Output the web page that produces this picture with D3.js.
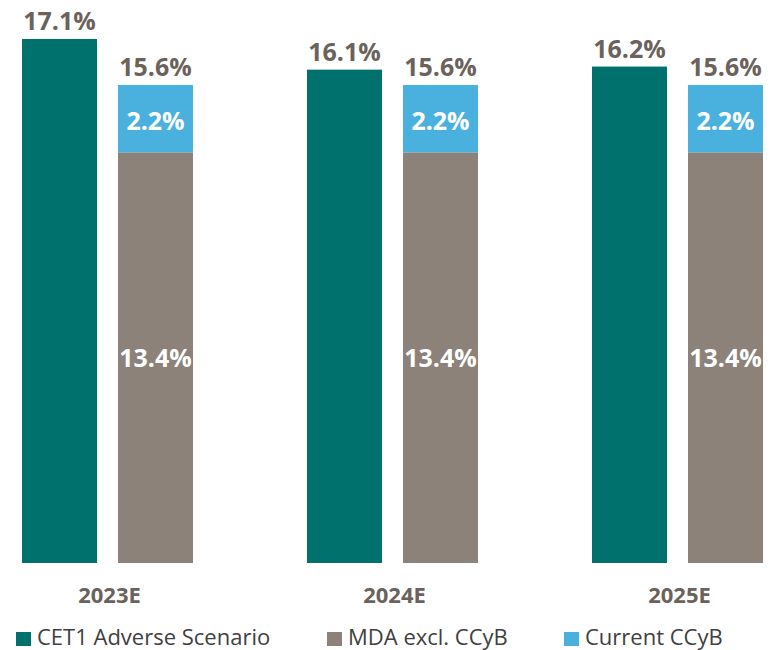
<!DOCTYPE html>
<html>
<head>
<meta charset="utf-8">
<script src="https://cdn.jsdelivr.net/npm/d3@7"></script>
<style>
  body { margin: 0; background: #fff; }
  text { font-family: "Open Sans", sans-serif; }
</style>
</head>
<body>
<div id="chart"></div>
<script>
const years     = ["2023E", "2024E", "2025E"];
const cet1      = [17.1, 16.1, 16.2];
const mdaExcl   = [13.4, 13.4, 13.4];
const ccyb      = [2.2, 2.2, 2.2];
const legendLabels = ["CET1 Adverse Scenario", "MDA excl. CCyB", "Current CCyB"];

const colors = { cet1: "#00716c", mda: "#8c8279", ccyb: "#4ab1df" };
const labelColor = "#6b625b";

const width = 773, height = 650;

const svg = d3.select("#chart")
  .append("svg")
    .attr("width", width)
    .attr("height", height);

const data = years.map((y, i) => ({
  year: y, cet1: cet1[i], mda: mdaExcl[i], ccyb: ccyb[i]
}));

const x = d3.scaleBand()
  .domain(years)
  .range([22, 763])
  .paddingInner(0.4)
  .paddingOuter(0);

const xSub = d3.scaleBand()
  .domain(["cet1", "stack"])
  .range([0, x.bandwidth()])
  .paddingInner(0.21875);

const y = d3.scaleLinear()
  .domain([0, 17.1])
  .range([563, 39]);

const fmt = v => v.toFixed(1) + "%";

const groups = svg.selectAll("g.group")
  .data(data)
  .join("g")
    .attr("class", "group")
    .attr("transform", d => `translate(${x(d.year)},0)`);

// CET1 bar
groups.append("rect")
  .attr("x", xSub("cet1"))
  .attr("y", d => y(d.cet1))
  .attr("width", xSub.bandwidth())
  .attr("height", d => y(0) - y(d.cet1))
  .attr("fill", colors.cet1);

// MDA excl. CCyB (bottom of stack)
groups.append("rect")
  .attr("x", xSub("stack"))
  .attr("y", d => y(d.mda))
  .attr("width", xSub.bandwidth())
  .attr("height", d => y(0) - y(d.mda))
  .attr("fill", colors.mda);

// Current CCyB (top of stack)
groups.append("rect")
  .attr("x", xSub("stack"))
  .attr("y", d => y(d.mda + d.ccyb))
  .attr("width", xSub.bandwidth())
  .attr("height", d => y(d.mda) - y(d.mda + d.ccyb))
  .attr("fill", colors.ccyb);

// top labels
groups.append("text")
  .attr("x", xSub("cet1") + xSub.bandwidth() / 2)
  .attr("y", d => y(d.cet1) - 9)
  .attr("text-anchor", "middle")
  .attr("font-size", 25)
  .attr("font-weight", "bold")
  .attr("fill", labelColor)
  .text(d => fmt(d.cet1));

groups.append("text")
  .attr("x", xSub("stack") + xSub.bandwidth() / 2)
  .attr("y", d => y(d.mda + d.ccyb) - 9)
  .attr("text-anchor", "middle")
  .attr("font-size", 25)
  .attr("font-weight", "bold")
  .attr("fill", labelColor)
  .text(d => fmt(d.mda + d.ccyb));

// inner labels
groups.append("text")
  .attr("x", xSub("stack") + xSub.bandwidth() / 2)
  .attr("y", d => (y(d.mda) + y(d.mda + d.ccyb)) / 2 + 2)
  .attr("dy", "0.36em")
  .attr("text-anchor", "middle")
  .attr("font-size", 25)
  .attr("font-weight", "bold")
  .attr("fill", "#fff")
  .text(d => fmt(d.ccyb));

groups.append("text")
  .attr("x", xSub("stack") + xSub.bandwidth() / 2)
  .attr("y", d => (y(0) + y(d.mda)) / 2)
  .attr("dy", "0.36em")
  .attr("text-anchor", "middle")
  .attr("font-size", 25)
  .attr("font-weight", "bold")
  .attr("fill", "#fff")
  .text(d => fmt(d.mda));

// x axis
const xAxis = d3.axisBottom(x).tickSize(0).tickPadding(0);
svg.append("g")
  .attr("class", "axis")
  .attr("transform", "translate(2,603)")
  .call(xAxis)
  .call(g => g.select(".domain").remove())
  .call(g => g.selectAll("text")
    .attr("dy", 0)
    .style("font-size", "22px")
    .style("font-weight", "bold")
    .style("font-family", "'Open Sans', sans-serif")
    .attr("fill", labelColor));

// legend
const legendX = [16, 327, 564];
const legendColors = [colors.cet1, colors.mda, colors.ccyb];
const legend = svg.selectAll("g.legend")
  .data(legendLabels)
  .join("g")
    .attr("class", "legend")
    .attr("transform", (d, i) => `translate(${legendX[i]},632)`);

legend.append("rect")
  .attr("width", 15)
  .attr("height", 14)
  .attr("fill", (d, i) => legendColors[i]);

legend.append("text")
  .attr("x", 21)
  .attr("y", 13)
  .style("font-size", "22px")
  .attr("fill", "#404040")
  .text(d => d);
</script>
</body>
</html>
